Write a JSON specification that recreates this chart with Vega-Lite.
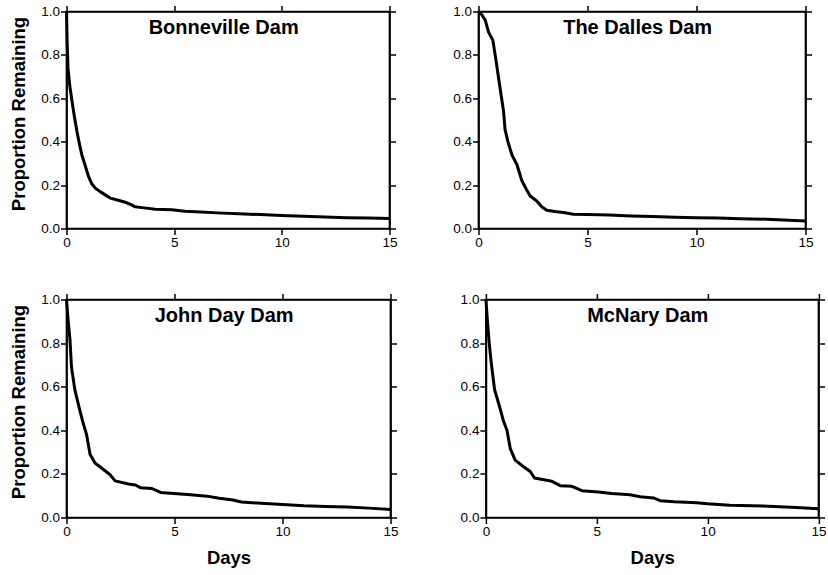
{
  "$schema": "https://vega.github.io/schema/vega-lite/v6.json",
  "autosize": {"type": "pad"},
  "padding": {"left": 8.5, "top": 3.5, "right": 0, "bottom": 0},
  "background": "white",
  "config": {
    "font": "Liberation Sans",
    "view": {"stroke": "black", "strokeWidth": 1.7},
    "axis": {
      "grid": false,
      "domainColor": "black",
      "domainWidth": 1.7,
      "tickColor": "black",
      "tickWidth": 1.5,
      "tickSize": 6,
      "labelFont": "Liberation Sans",
      "labelFontSize": 13.5,
      "labelColor": "black",
      "labelPadding": 1,
      "labelFlush": false,
      "labelOverlap": false,
      "titleFont": "Liberation Sans",
      "titleFontSize": 18.5,
      "titleFontWeight": "bold",
      "titleColor": "black"
    }
  },
  "datasets": {
    "bonneville": [
      {"day": 0, "p": 1.0}, {"day": 0.03, "p": 0.86}, {"day": 0.07, "p": 0.74}, {"day": 0.15, "p": 0.66},
      {"day": 0.25, "p": 0.59}, {"day": 0.36, "p": 0.52}, {"day": 0.48, "p": 0.45}, {"day": 0.6, "p": 0.39},
      {"day": 0.71, "p": 0.34}, {"day": 0.9, "p": 0.28}, {"day": 1.02, "p": 0.24}, {"day": 1.18, "p": 0.205},
      {"day": 1.35, "p": 0.185}, {"day": 1.56, "p": 0.17}, {"day": 1.8, "p": 0.155}, {"day": 2.03, "p": 0.14},
      {"day": 2.4, "p": 0.13}, {"day": 2.73, "p": 0.121}, {"day": 3.0, "p": 0.11}, {"day": 3.19, "p": 0.1},
      {"day": 3.6, "p": 0.095}, {"day": 4.12, "p": 0.089}, {"day": 4.9, "p": 0.086}, {"day": 5.5, "p": 0.08},
      {"day": 6.0, "p": 0.077}, {"day": 7.0, "p": 0.072}, {"day": 8.0, "p": 0.068}, {"day": 9.0, "p": 0.064},
      {"day": 10.0, "p": 0.06}, {"day": 11.0, "p": 0.056}, {"day": 12.0, "p": 0.053}, {"day": 13.0, "p": 0.05},
      {"day": 14.0, "p": 0.048}, {"day": 15.0, "p": 0.046}
    ],
    "dalles": [
      {"day": 0, "p": 1.0}, {"day": 0.15, "p": 0.985}, {"day": 0.31, "p": 0.96}, {"day": 0.46, "p": 0.905},
      {"day": 0.66, "p": 0.867}, {"day": 0.81, "p": 0.77}, {"day": 0.99, "p": 0.646}, {"day": 1.15, "p": 0.54},
      {"day": 1.22, "p": 0.455}, {"day": 1.35, "p": 0.4}, {"day": 1.53, "p": 0.34}, {"day": 1.76, "p": 0.295},
      {"day": 1.99, "p": 0.22}, {"day": 2.2, "p": 0.18}, {"day": 2.37, "p": 0.15}, {"day": 2.67, "p": 0.127},
      {"day": 2.9, "p": 0.1}, {"day": 3.13, "p": 0.084}, {"day": 3.5, "p": 0.078}, {"day": 3.9, "p": 0.074},
      {"day": 4.35, "p": 0.066}, {"day": 5, "p": 0.064}, {"day": 6, "p": 0.062}, {"day": 7, "p": 0.058},
      {"day": 8, "p": 0.055}, {"day": 9, "p": 0.052}, {"day": 10, "p": 0.05}, {"day": 11, "p": 0.048},
      {"day": 12, "p": 0.045}, {"day": 13.2, "p": 0.043}, {"day": 14, "p": 0.039}, {"day": 15, "p": 0.034}
    ],
    "johnday": [
      {"day": 0, "p": 1.0}, {"day": 0.08, "p": 0.9}, {"day": 0.16, "p": 0.817}, {"day": 0.23, "p": 0.69},
      {"day": 0.39, "p": 0.584}, {"day": 0.62, "p": 0.49}, {"day": 0.78, "p": 0.43}, {"day": 0.93, "p": 0.38},
      {"day": 1.09, "p": 0.29}, {"day": 1.32, "p": 0.25}, {"day": 1.71, "p": 0.22}, {"day": 2.02, "p": 0.196},
      {"day": 2.25, "p": 0.168}, {"day": 2.87, "p": 0.154}, {"day": 3.19, "p": 0.149}, {"day": 3.42, "p": 0.137},
      {"day": 3.96, "p": 0.133}, {"day": 4.35, "p": 0.115}, {"day": 5.12, "p": 0.109}, {"day": 5.75, "p": 0.104},
      {"day": 6.5, "p": 0.098}, {"day": 7.07, "p": 0.088}, {"day": 7.7, "p": 0.08}, {"day": 8.1, "p": 0.071},
      {"day": 9, "p": 0.065}, {"day": 10, "p": 0.06}, {"day": 11, "p": 0.054}, {"day": 12, "p": 0.051},
      {"day": 13, "p": 0.048}, {"day": 14, "p": 0.043}, {"day": 15, "p": 0.037}
    ],
    "mcnary": [
      {"day": 0, "p": 1.0}, {"day": 0.07, "p": 0.9}, {"day": 0.15, "p": 0.8}, {"day": 0.24, "p": 0.71},
      {"day": 0.39, "p": 0.587}, {"day": 0.64, "p": 0.5}, {"day": 0.8, "p": 0.44}, {"day": 0.95, "p": 0.4},
      {"day": 1.1, "p": 0.316}, {"day": 1.32, "p": 0.263}, {"day": 1.7, "p": 0.233}, {"day": 2.0, "p": 0.211},
      {"day": 2.19, "p": 0.181}, {"day": 2.98, "p": 0.166}, {"day": 3.35, "p": 0.146}, {"day": 3.88, "p": 0.143},
      {"day": 4.33, "p": 0.123}, {"day": 5.08, "p": 0.117}, {"day": 5.68, "p": 0.11}, {"day": 6.5, "p": 0.104},
      {"day": 6.96, "p": 0.095}, {"day": 7.56, "p": 0.09}, {"day": 7.86, "p": 0.077}, {"day": 8.5, "p": 0.072},
      {"day": 9.5, "p": 0.068}, {"day": 10, "p": 0.063}, {"day": 11, "p": 0.056}, {"day": 12, "p": 0.054},
      {"day": 13, "p": 0.051}, {"day": 14, "p": 0.046}, {"day": 15, "p": 0.04}
    ]
  },
  "spacing": 41,
  "vconcat": [
    {
      "bounds": "flush",
      "spacing": 89,
      "hconcat": [
        {
          "width": 323, "height": 217,
          "resolve": {"axis": {"x": "independent", "y": "independent"}},
          "layer": [
            {
              "data": {"name": "bonneville"},
              "mark": {"type": "line", "color": "black", "strokeWidth": 3, "strokeJoin": "round"},
              "encoding": {
                "x": {"field": "day", "type": "quantitative", "scale": {"domain": [0, 15], "nice": false, "zero": false}, "axis": {"orient": "bottom", "values": [0, 5, 10, 15], "format": "d", "title": null}},
                "y": {"field": "p", "type": "quantitative", "scale": {"domain": [0, 1], "nice": false, "zero": false}, "axis": {"orient": "left", "values": [0, 0.2, 0.4, 0.6, 0.8, 1.0], "format": ".1f", "title": "Proportion Remaining", "titlePadding": 12, "titleY": 102}}
              }
            },
            {
              "data": {"name": "bonneville"},
              "mark": {"type": "line", "opacity": 0},
              "encoding": {
                "x": {"field": "day", "type": "quantitative", "axis": {"orient": "top", "values": [0, 5, 10, 15], "labels": false, "title": null}},
                "y": {"field": "p", "type": "quantitative", "axis": {"orient": "right", "values": [0, 0.2, 0.4, 0.6, 0.8, 1.0], "labels": false, "title": null}}
              }
            },
            {
              "data": {"values": [{"label": "Bonneville Dam"}]},
              "mark": {"type": "text", "fontSize": 20, "fontWeight": "bold", "font": "Liberation Sans", "color": "black"},
              "encoding": {
                "x": {"datum": 7.3, "type": "quantitative", "axis": null},
                "y": {"datum": 0.925, "type": "quantitative", "axis": null},
                "text": {"field": "label"}
              }
            }
          ]
        },
        {
          "width": 327, "height": 217,
          "resolve": {"axis": {"x": "independent", "y": "independent"}},
          "layer": [
            {
              "data": {"name": "dalles"},
              "mark": {"type": "line", "color": "black", "strokeWidth": 3, "strokeJoin": "round"},
              "encoding": {
                "x": {"field": "day", "type": "quantitative", "scale": {"domain": [0, 15], "nice": false, "zero": false}, "axis": {"orient": "bottom", "values": [0, 5, 10, 15], "format": "d", "title": null}},
                "y": {"field": "p", "type": "quantitative", "scale": {"domain": [0, 1], "nice": false, "zero": false}, "axis": {"orient": "left", "values": [0, 0.2, 0.4, 0.6, 0.8, 1.0], "format": ".1f", "title": null}}
              }
            },
            {
              "data": {"name": "dalles"},
              "mark": {"type": "line", "opacity": 0},
              "encoding": {
                "x": {"field": "day", "type": "quantitative", "axis": {"orient": "top", "values": [0, 5, 10, 15], "labels": false, "title": null}},
                "y": {"field": "p", "type": "quantitative", "axis": {"orient": "right", "values": [0, 0.2, 0.4, 0.6, 0.8, 1.0], "labels": false, "title": null}}
              }
            },
            {
              "data": {"values": [{"label": "The Dalles Dam"}]},
              "mark": {"type": "text", "fontSize": 20, "fontWeight": "bold", "font": "Liberation Sans", "color": "black"},
              "encoding": {
                "x": {"datum": 7.3, "type": "quantitative", "axis": null},
                "y": {"datum": 0.925, "type": "quantitative", "axis": null},
                "text": {"field": "label"}
              }
            }
          ]
        }
      ]
    },
    {
      "bounds": "flush",
      "spacing": 95.4,
      "hconcat": [
        {
          "width": 324, "height": 218,
          "resolve": {"axis": {"x": "independent", "y": "independent"}},
          "layer": [
            {
              "data": {"name": "johnday"},
              "mark": {"type": "line", "color": "black", "strokeWidth": 3, "strokeJoin": "round"},
              "encoding": {
                "x": {"field": "day", "type": "quantitative", "scale": {"domain": [0, 15], "nice": false, "zero": false}, "axis": {"orient": "bottom", "values": [0, 5, 10, 15], "format": "d", "title": "Days", "titlePadding": 10}},
                "y": {"field": "p", "type": "quantitative", "scale": {"domain": [0, 1], "nice": false, "zero": false}, "axis": {"orient": "left", "values": [0, 0.2, 0.4, 0.6, 0.8, 1.0], "format": ".1f", "title": "Proportion Remaining", "titlePadding": 12, "titleY": 102}}
              }
            },
            {
              "data": {"name": "johnday"},
              "mark": {"type": "line", "opacity": 0},
              "encoding": {
                "x": {"field": "day", "type": "quantitative", "axis": {"orient": "top", "values": [0, 5, 10, 15], "labels": false, "title": null}},
                "y": {"field": "p", "type": "quantitative", "axis": {"orient": "right", "values": [0, 0.2, 0.4, 0.6, 0.8, 1.0], "labels": false, "title": null}}
              }
            },
            {
              "data": {"values": [{"label": "John Day Dam"}]},
              "mark": {"type": "text", "fontSize": 20, "fontWeight": "bold", "font": "Liberation Sans", "color": "black"},
              "encoding": {
                "x": {"datum": 7.3, "type": "quantitative", "axis": null},
                "y": {"datum": 0.925, "type": "quantitative", "axis": null},
                "text": {"field": "label"}
              }
            }
          ]
        },
        {
          "width": 332.6, "height": 218,
          "resolve": {"axis": {"x": "independent", "y": "independent"}},
          "layer": [
            {
              "data": {"name": "mcnary"},
              "mark": {"type": "line", "color": "black", "strokeWidth": 3, "strokeJoin": "round"},
              "encoding": {
                "x": {"field": "day", "type": "quantitative", "scale": {"domain": [0, 15], "nice": false, "zero": false}, "axis": {"orient": "bottom", "values": [0, 5, 10, 15], "format": "d", "title": "Days", "titlePadding": 10}},
                "y": {"field": "p", "type": "quantitative", "scale": {"domain": [0, 1], "nice": false, "zero": false}, "axis": {"orient": "left", "values": [0, 0.2, 0.4, 0.6, 0.8, 1.0], "format": ".1f", "title": null}}
              }
            },
            {
              "data": {"name": "mcnary"},
              "mark": {"type": "line", "opacity": 0},
              "encoding": {
                "x": {"field": "day", "type": "quantitative", "axis": {"orient": "top", "values": [0, 5, 10, 15], "labels": false, "title": null}},
                "y": {"field": "p", "type": "quantitative", "axis": {"orient": "right", "values": [0, 0.2, 0.4, 0.6, 0.8, 1.0], "labels": false, "title": null}}
              }
            },
            {
              "data": {"values": [{"label": "McNary Dam"}]},
              "mark": {"type": "text", "fontSize": 20, "fontWeight": "bold", "font": "Liberation Sans", "color": "black"},
              "encoding": {
                "x": {"datum": 7.3, "type": "quantitative", "axis": null},
                "y": {"datum": 0.925, "type": "quantitative", "axis": null},
                "text": {"field": "label"}
              }
            }
          ]
        }
      ]
    }
  ]
}
